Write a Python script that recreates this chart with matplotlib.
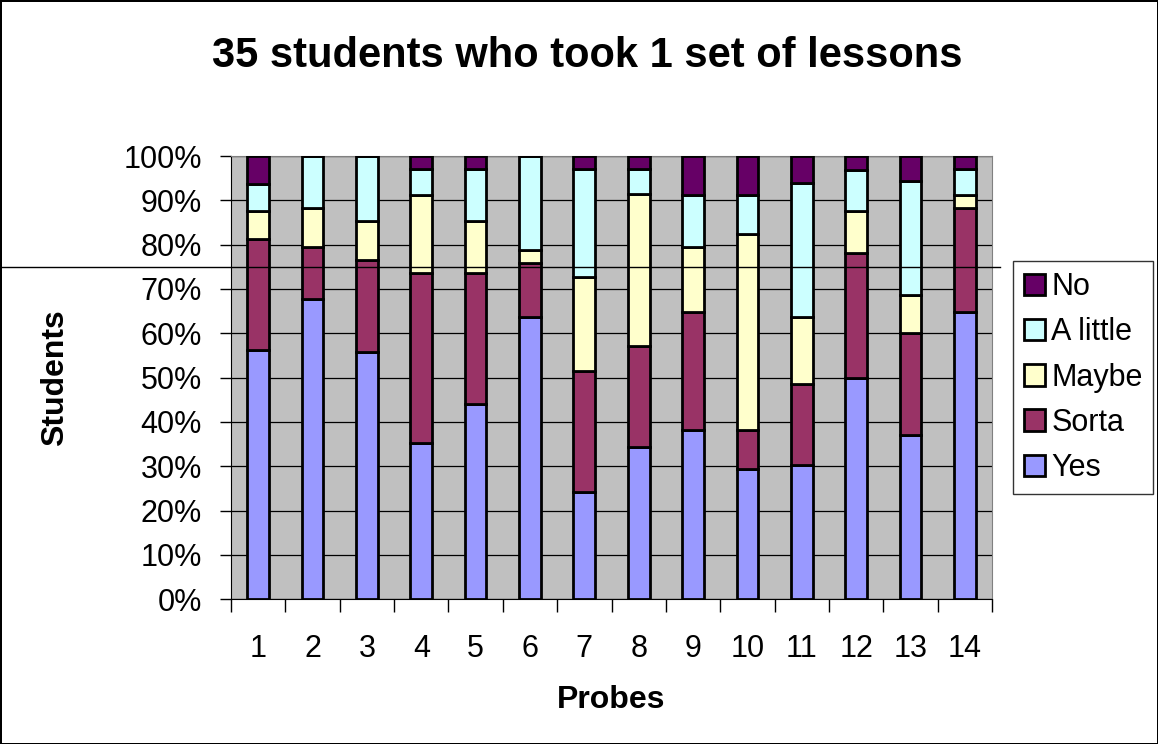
import matplotlib
matplotlib.use("Agg")
import matplotlib.pyplot as plt
import numpy as np

plt.rcParams['font.family'] = ['Liberation Sans', 'DejaVu Sans']

# student counts per probe
probes = [str(i) for i in range(1, 15)]
yes      = [18, 23, 19, 12, 15, 21, 8, 12, 13, 10, 10, 16, 13, 22]
sorta    = [8, 4, 7, 13, 10, 4, 9, 8, 9, 3, 6, 9, 8, 8]
maybe    = [2, 3, 3, 6, 4, 1, 7, 12, 5, 15, 5, 3, 3, 1]
a_little = [2, 4, 5, 2, 4, 7, 8, 2, 4, 3, 10, 3, 9, 2]
no       = [2, 0, 0, 1, 1, 0, 1, 1, 3, 3, 2, 1, 2, 1]

series = [("Yes", yes, "#9999FF"),
          ("Sorta", sorta, "#993366"),
          ("Maybe", maybe, "#FFFFCC"),
          ("A little", a_little, "#CCFFFF"),
          ("No", no, "#660066")]

totals = np.sum([s[1] for s in series], axis=0)

fig = plt.figure(figsize=(11.58, 7.44), dpi=100)
fig.patch.set_edgecolor("black")
fig.patch.set_linewidth(2)
ax = fig.add_axes([231/1158, 1 - 599.3/744, 761/1158, 443.3/744])
ax.set_facecolor("#C0C0C0")

x = np.arange(1, 15)
bottom = np.zeros(14)
bars = []
for name, vals, col in series:
    pct = np.array(vals) / totals * 100
    b = ax.bar(x, pct, width=0.4, bottom=bottom, color=col, edgecolor="black",
               linewidth=2.0, label=name, zorder=3)
    bars.append(b)
    bottom += pct

ax.set_xlim(0.5, 14.5)
ax.set_ylim(0, 100)
ax.set_yticks(np.arange(0, 101, 10))
ax.set_yticklabels([f"{v}%" for v in range(0, 101, 10)])
ax.yaxis.grid(True, color="black", linewidth=0.9, zorder=0)
ax.set_axisbelow(True)
ax.set_xticks(x)
ax.set_xticklabels(probes)
ax.set_xticks(np.arange(0.5, 15, 1), minor=True)
ax.tick_params(axis="x", which="major", length=0, pad=25, labelsize=22)
ax.tick_params(axis="x", which="minor", length=9, width=1, direction="out")
ax.tick_params(axis="y", length=8, width=1, direction="out", labelsize=22, pad=13)

for side in ["top", "right"]:
    ax.spines[side].set_color("#808080")
for side in ["left", "bottom"]:
    ax.spines[side].set_color("black")

# stray horizontal line across the chart
ax.axhline(75, xmin=-0.3035, xmax=1.0105, color="black", linewidth=1, clip_on=False, zorder=5)

fig.text(0.507, 1 - 56/744, "35 students who took 1 set of lessons",
         ha="center", va="center", fontsize=30, fontweight="bold")
fig.text(55/1158, 1 - 378/744, "Students", rotation=90, ha="center", va="center",
         fontsize=23, fontweight="bold")
fig.text(611/1158, 1 - 700/744, "Probes", ha="center", va="center",
         fontsize=23, fontweight="bold")

handles = [b.patches[0] for b in bars][::-1]
labels = [s[0] for s in series][::-1]
leg = fig.legend(handles, labels, loc="center left",
                 bbox_to_anchor=(1013/1158, 1 - 377.5/744),
                 fontsize=22, frameon=True, fancybox=False, edgecolor="black",
                 handlelength=0.7, handleheight=0.7, handletextpad=0.2,
                 labelspacing=0.5, borderpad=0.35, borderaxespad=0)
leg.get_frame().set_linewidth(1)

fig.savefig("out.png", dpi=100)
